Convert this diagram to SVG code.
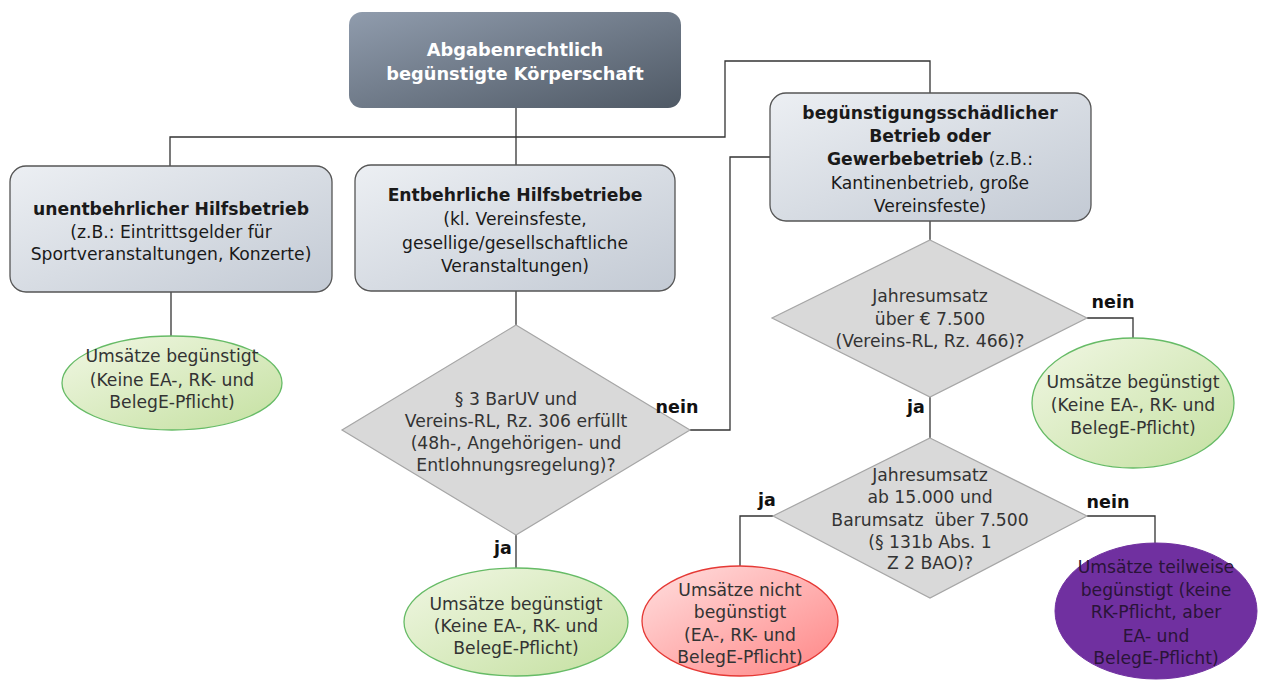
<svg xmlns="http://www.w3.org/2000/svg" width="1261" height="682" viewBox="0 0 1261 682">
<defs>
<linearGradient id="gTop" x1="0" y1="0" x2="1" y2="1"><stop offset="0" stop-color="#909cad"/><stop offset="1" stop-color="#4f5965"/></linearGradient>
<linearGradient id="gBox" x1="0" y1="0" x2="1" y2="1"><stop offset="0" stop-color="#eceff3"/><stop offset="1" stop-color="#c3cad4"/></linearGradient>
<linearGradient id="gGreen" x1="0" y1="0" x2="1" y2="1"><stop offset="0" stop-color="#f1f7e4"/><stop offset="1" stop-color="#c4e0a0"/></linearGradient>
<linearGradient id="gRed" x1="0" y1="0" x2="1" y2="1"><stop offset="0" stop-color="#ffe0e0"/><stop offset="1" stop-color="#ff8585"/></linearGradient>
</defs>
<style>
text{font-family:"DejaVu Sans","Liberation Sans",sans-serif;font-size:17.2px;fill:#1a1a1a;text-anchor:middle}
.b{font-weight:bold}
.w{fill:#ffffff;font-weight:bold;font-size:17.8px}
.e{fill:#333333}
.p{fill:#2a1438}
.box{fill:url(#gBox);stroke:#555555;stroke-width:1.3}
.dia{fill:#d9d9d9;stroke:#a6a6a6;stroke-width:1.2}
.grn{fill:url(#gGreen);stroke:#66bb66;stroke-width:1.3}
.lbl{font-weight:bold;font-size:17.5px;fill:#111111}
#connectors path{fill:none;stroke:#333333;stroke-width:1.3}
</style>
<rect width="1261" height="682" fill="#ffffff"/>
<g id="connectors">
<path d="M516 108 V165"/>
<path d="M170 166 V137 H725 V61 H930 V93"/>
<path d="M171 292 V337"/>
<path d="M516 291 V325"/>
<path d="M690 430 H730 V157 H770"/>
<path d="M516 535 V568"/>
<path d="M930 221 V240"/>
<path d="M1087 318 H1133 V338"/>
<path d="M930 397 V438"/>
<path d="M773 516 H740 V566"/>
<path d="M1087 516 H1155 V543"/>
</g>
<g id="top">
<rect x="349" y="12" width="332" height="96" rx="13" fill="url(#gTop)"/>
<text class="w" x="515" y="56">Abgabenrechtlich</text>
<text class="w" x="515" y="80">begünstigte Körperschaft</text>
</g>
<g id="unentbehrlich">
<rect class="box" x="10" y="166" width="322" height="126" rx="16"/>
<text class="b" x="171" y="215">unentbehrlicher Hilfsbetrieb</text>
<text x="171" y="238">(z.B.: Eintrittsgelder für</text>
<text x="171" y="260">Sportveranstaltungen, Konzerte)</text>
</g>
<g id="entbehrlich">
<rect class="box" x="355" y="165" width="320" height="126" rx="16"/>
<text class="b" x="515" y="201">Entbehrliche Hilfsbetriebe</text>
<text x="515" y="225">(kl. Vereinsfeste,</text>
<text x="515" y="249">gesellige/gesellschaftliche</text>
<text x="515" y="272">Veranstaltungen)</text>
</g>
<g id="schaedlich">
<rect class="box" x="770" y="93" width="321" height="128" rx="16"/>
<text class="b" x="930" y="119">begünstigungsschädlicher</text>
<text class="b" x="930" y="142">Betrieb oder</text>
<text x="930" y="165"><tspan class="b">Gewerbebetrieb</tspan> (z.B.:</text>
<text x="930" y="189">Kantinenbetrieb, große</text>
<text x="930" y="212">Vereinsfeste)</text>
</g>
<g id="ell1">
<ellipse class="grn" cx="172" cy="383" rx="110" ry="47"/>
<text class="e" x="172" y="362">Umsätze begünstigt</text>
<text class="e" x="172" y="386">(Keine EA-, RK- und</text>
<text class="e" x="172" y="408">BelegE-Pflicht)</text>
</g>
<g id="dia1">
<polygon class="dia" points="516,325 690,430 516,535 342,430"/>
<text class="e" x="516" y="405">§ 3 BarUV und</text>
<text class="e" x="516" y="427">Vereins-RL, Rz. 306 erfüllt</text>
<text class="e" x="516" y="449">(48h-, Angehörigen- und</text>
<text class="e" x="516" y="471">Entlohnungsregelung)?</text>
<text class="lbl" x="677" y="413">nein</text>
<text class="lbl" x="503" y="554">ja</text>
</g>
<g id="ell2">
<ellipse class="grn" cx="516" cy="622" rx="112" ry="54"/>
<text class="e" x="516" y="610">Umsätze begünstigt</text>
<text class="e" x="516" y="632">(Keine EA-, RK- und</text>
<text class="e" x="516" y="654">BelegE-Pflicht)</text>
</g>
<g id="dia2">
<polygon class="dia" points="930,240 1087,318 930,397 772,318"/>
<text class="e" x="930" y="302">Jahresumsatz</text>
<text class="e" x="930" y="325">über € 7.500</text>
<text class="e" x="930" y="347">(Vereins-RL, Rz. 466)?</text>
<text class="lbl" x="1113" y="308">nein</text>
<text class="lbl" x="916" y="413">ja</text>
</g>
<g id="ell3">
<ellipse class="grn" cx="1133" cy="403" rx="101" ry="65"/>
<text class="e" x="1133" y="388">Umsätze begünstigt</text>
<text class="e" x="1133" y="411">(Keine EA-, RK- und</text>
<text class="e" x="1133" y="434">BelegE-Pflicht)</text>
</g>
<g id="dia3">
<polygon class="dia" points="930,438 1087,516 930,598 773,516"/>
<text class="e" x="930" y="481">Jahresumsatz</text>
<text class="e" x="930" y="503">ab 15.000 und</text>
<text class="e" x="930" y="526" xml:space="preserve">Barumsatz  über 7.500</text>
<text class="e" x="930" y="548">(§ 131b Abs. 1</text>
<text class="e" x="930" y="569">Z 2 BAO)?</text>
<text class="lbl" x="767" y="506">ja</text>
<text class="lbl" x="1108" y="508">nein</text>
</g>
<g id="ell4">
<ellipse cx="740" cy="621" rx="98" ry="55" fill="url(#gRed)" stroke="#e53935" stroke-width="1.3"/>
<text class="e" x="740" y="596">Umsätze nicht</text>
<text class="e" x="740" y="618">begünstigt</text>
<text class="e" x="740" y="641">(EA-, RK- und</text>
<text class="e" x="740" y="663">BelegE-Pflicht)</text>
</g>
<g id="ell5">
<ellipse cx="1156" cy="611" rx="101" ry="68" fill="#7030a0" stroke="#7030a0" stroke-width="1"/>
<text class="p" x="1156" y="573">Umsätze teilweise</text>
<text class="p" x="1156" y="596">begünstigt (keine</text>
<text class="p" x="1156" y="618">RK-Pflicht, aber</text>
<text class="p" x="1156" y="642">EA- und</text>
<text class="p" x="1156" y="664">BelegE-Pflicht)</text>
</g>
</svg>
